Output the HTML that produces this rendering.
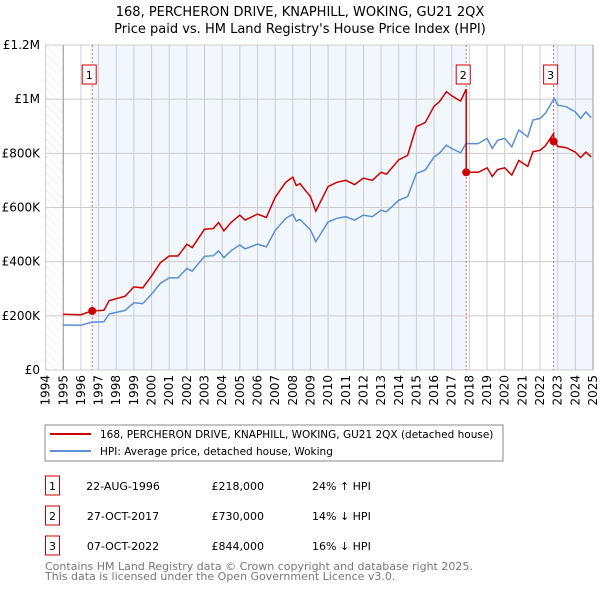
<!DOCTYPE html>
<html><head><meta charset="utf-8"><style>
body{margin:0;background:#fff;font-family:"DejaVu Sans","Liberation Sans",sans-serif}
#wrap{position:relative;width:600px;height:590px;overflow:hidden}
</style></head><body><div id="wrap">
<svg id="svg" width="600" height="590" xmlns="http://www.w3.org/2000/svg" style="position:absolute;left:0;top:0">
<defs><pattern id="hatch" width="6" height="6" patternUnits="userSpaceOnUse" patternTransform="rotate(-45)"><line x1="0" y1="0" x2="0" y2="6" stroke="#ddd" stroke-width="0.8"/></pattern></defs>
<text x="300" y="16" text-anchor="middle" font-size="13">168, PERCHERON DRIVE, KNAPHILL, WOKING, GU21 2QX</text>
<text x="300" y="33" text-anchor="middle" font-size="13">Price paid vs. HM Land Registry's House Price Index (HPI)</text>
<g id="plot"></g>
<rect x="45" y="425" width="458" height="36" fill="#fff" stroke="#888"/>
<line x1="50" y1="434" x2="91" y2="434" stroke="#cc0000" stroke-width="2"/>
<text x="100" y="438" font-size="10.5">168, PERCHERON DRIVE, KNAPHILL, WOKING, GU21 2QX (detached house)</text>
<line x1="50" y1="451" x2="91" y2="451" stroke="#5b8fd1" stroke-width="2"/>
<text x="100" y="455" font-size="10.5">HPI: Average price, detached house, Woking</text>
<g id="table" font-size="11"></g>
<text x="45" y="570" font-size="11" fill="#777">Contains HM Land Registry data © Crown copyright and database right 2025.</text>
<text x="45" y="580" font-size="11" fill="#777">This data is licensed under the Open Government Licence v3.0.</text>
</svg></div>
<script>
const hpiYears=[1995.0,1996.0,1996.6,1997.3,1997.6,1998.5,1999.0,1999.5,2000.0,2000.5,2001.0,2001.5,2002.0,2002.3,2003.0,2003.5,2003.8,2004.1,2004.5,2005.0,2005.3,2006.0,2006.5,2007.0,2007.6,2008.0,2008.2,2008.4,2009.0,2009.3,2010.0,2010.5,2011.0,2011.5,2012.0,2012.5,2013.0,2013.3,2014.0,2014.5,2015.0,2015.5,2016.0,2016.3,2016.7,2017.0,2017.5,2017.8,2018.5,2019.0,2019.3,2019.6,2020.0,2020.4,2020.8,2021.3,2021.6,2022.0,2022.3,2022.8,2023.0,2023.5,2024.0,2024.3,2024.6,2024.9];
const hpiValues=[166,165,176,178,207,220,248,245,280,320,340,340,375,365,420,422,440,415,440,462,447,465,455,515,560,575,550,556,517,474,547,560,566,553,572,566,590,584,627,640,726,738,787,800,830,818,802,836,836,855,818,848,855,824,886,861,923,929,947,1003,978,972,953,929,953,932];
const saleDates=[1996.64,2017.82,2022.77];
const saleLabels=["22-AUG-1996","27-OCT-2017","07-OCT-2022"];
const salePrices=[218,730,844];
const saleText=["£218,000","£730,000","£844,000"];
const saleDiff=["24% ↑ HPI","14% ↓ HPI","16% ↓ HPI"];
const yTicks=[0,200,400,600,800,1000,1200];
const yTickLabels=["£0","£200K","£400K","£600K","£800K","£1M","£1.2M"];
const NS="http://www.w3.org/2000/svg";
const X0=45.6,X1=593,Y0=370,Y1=45;
const x=t=>X0+(t-1994)*(X1-X0)/31;
const y=v=>Y0-v*(Y0-Y1)/1200;
function hpiAt(t){for(let i=0;i<hpiYears.length-1;i++){if(t<=hpiYears[i+1]){const f=(t-hpiYears[i])/(hpiYears[i+1]-hpiYears[i]);return hpiValues[i]+f*(hpiValues[i+1]-hpiValues[i]);}}return hpiValues[hpiValues.length-1];}
const plot=document.getElementById('plot');
function mk(tag,attrs,parent){const e=document.createElementNS(NS,tag);for(const k in attrs)e.setAttribute(k,attrs[k]);(parent||plot).appendChild(e);return e;}
let e;
e=mk('rect',{x:X0,y:Y1,width:x(1995)-X0,height:Y0-Y1,fill:'url(#hatch)'});


const shade=[[saleDates[0],saleDates[1]],[saleDates[2],2025]];
shade.forEach(s=>{e=mk('rect',{x:x(s[0]),y:Y1,width:x(s[1])-x(s[0]),height:Y0-Y1,fill:'#f2f6fd'});

});
for(let yr=1994;yr<=2025;yr++){e=mk('line',{x1:x(yr),x2:x(yr),y1:Y1,y2:Y0,stroke:'#ccc','stroke-width':1});


e=mk('text',{x:0,y:0,'font-size':12,'text-anchor':'end',transform:`translate(${x(yr)+4},${Y0+5}) rotate(-90)`});
e.textContent=yr;

}
yTicks.forEach((v,i)=>{e=mk('line',{x1:X0,x2:X1,y1:y(v),y2:y(v),stroke:'#ccc','stroke-width':1});


e=mk('text',{x:40,y:y(v)+4,'font-size':12,'text-anchor':'end'});
e.textContent=yTickLabels[i];

});
e=mk('line',{x1:x(1995),x2:x(1995),y1:Y1,y2:Y0,stroke:'#999'});


e=mk('line',{x1:X1,x2:X1,y1:Y1,y2:Y0,stroke:'#999'});


saleDates.forEach((d,i)=>{e=mk('line',{x1:x(d),x2:x(d),y1:Y1,y2:Y0,stroke:'#e06060','stroke-dasharray':'2,2','stroke-width':1});

});
let pts=hpiYears.map((t,i)=>x(t).toFixed(1)+','+y(hpiValues[i]).toFixed(1)).join(' ');
e=mk('polyline',{points:pts,fill:'none',stroke:'#5b8fd1','stroke-width':1.5});


const ratios=saleDates.map((d,i)=>salePrices[i]/hpiAt(d));
function seg(t){let k=0;for(let i=0;i<saleDates.length;i++)if(t>=saleDates[i])k=i;return k;}
const rp=[];
const allT=hpiYears.concat(saleDates).sort((a,b)=>a-b);
allT.forEach(t=>{const k=seg(t);
 saleDates.forEach((d,i)=>{if(i>0&&Math.abs(t-d)<1e-9){rp.push([x(t),y(hpiAt(t)*ratios[i-1])]);}});
 rp.push([x(t),y(hpiAt(t)*ratios[k])]);});
e=mk('polyline',{points:rp.map(p=>p[0].toFixed(1)+','+p[1].toFixed(1)).join(' '),fill:'none',stroke:'#cc0000','stroke-width':1.5});


saleDates.forEach((d,i)=>{e=mk('circle',{cx:x(d),cy:y(salePrices[i]),r:4,fill:'#cc0000'});


e=mk('rect',{x:x(d)-10,y:65,width:14,height:19,fill:'#fff',stroke:'#cc0000'});


e=mk('text',{x:x(d)-3,y:79,'font-size':11,'text-anchor':'middle'});
e.textContent=i+1;

});
const tb=document.getElementById('table');
saleDates.forEach((d,i)=>{const ry=476+i*30;
e=mk('rect',{x:45.5,y:ry,width:14,height:19,fill:'#fff',stroke:'#cc0000'},tb);


e=mk('text',{x:52.5,y:ry+14,'text-anchor':'middle'},tb);e.textContent=i+1;


e=mk('text',{x:123,y:ry+14,'text-anchor':'middle'},tb);e.textContent=saleLabels[i];


e=mk('text',{x:264,y:ry+14,'text-anchor':'end'},tb);e.textContent=saleText[i];


e=mk('text',{x:312,y:ry+14},tb);e.textContent=saleDiff[i];

});
</script></body></html>
